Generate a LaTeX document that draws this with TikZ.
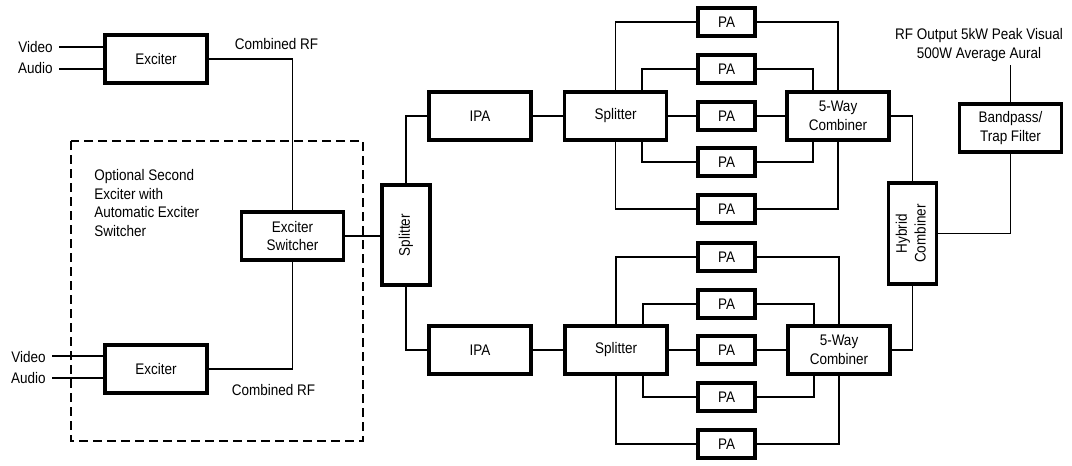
\documentclass[tikz,border=0pt]{standalone}
\usepackage{fontspec}
\setmainfont{Liberation Sans}[FakeStretch=0.88]
\newcommand{\dfont}{\fontsize{11.5}{14}\selectfont}
\begin{document}
\begin{tikzpicture}[x=0.75pt,y=-0.75pt,
  box/.style={draw,line width=2.8pt,inner sep=0pt,align=center,font=\dfont,minimum width=76.5pt,minimum height=36pt},
  vbox/.style={box,minimum width=36pt,minimum height=75.5pt},
  pa/.style={box,minimum width=43pt,minimum height=21pt},
  wire/.style={line width=1.25pt},
  lbl/.style={inner sep=0pt,font=\dfont},
  optbox/.style={line width=1.3pt,dash pattern=on 6.75pt off 3.75pt}]
\useasboundingbox (0,0) rectangle (1072,465);
% dashed optional region
\draw[optbox] (71,141) rectangle (363,441);
% blocks
\node[box] (exc1) at (156,59) {Exciter};
\node[box] (exc2) at (156,369) {Exciter};
\node[box] (sw) at (292.5,236) {Exciter\\Switcher};
\node[vbox] (sp0) at (406,235) {\rotatebox{90}{Splitter}};
\node[box] (ipa1) at (480,116) {IPA};
\node[box] (ipa2) at (480,350) {IPA};
\node[box] (spl1) at (615.5,116) {Splitter};
\node[box] (spl2) at (616,350) {Splitter};
\node[box] (cmb1) at (838,116) {5-Way\\Combiner};
\node[box] (cmb2) at (839,350) {5-Way\\Combiner};
\node[vbox] (hyb) at (912.5,233.5) {\rotatebox{90}{\begin{tabular}{@{}c@{}}Hybrid\\Combiner\end{tabular}}};
\node[box] (bp) at (1010.5,128) {Bandpass/\\Trap Filter};
\foreach \i/\y in {1/22,2/69,3/116,4/162,5/209} \node[pa] (pa1\i) at (726.5,\y) {PA};
\foreach \i/\y in {1/257,2/304,3/350,4/397,5/444} \node[pa] (pa2\i) at (726.5,\y) {PA};
% labels
\node[lbl,anchor=east] (vl1) at (53,47) {Video};
\node[lbl,anchor=east] (al1) at (53,68) {Audio};
\node[lbl,anchor=east] (vl2) at (46,357) {Video};
\node[lbl,anchor=east] (al2) at (46,378) {Audio};
\node[lbl,anchor=base] (crf1) at (276.5,49) {Combined RF};
\node[lbl,anchor=base] (crf2) at (273.5,395) {Combined RF};
\node[lbl,anchor=north west,align=left] (opttxt) at (94,169) {Optional Second\\Exciter with\\Automatic Exciter\\Switcher};
\node[lbl,anchor=north,align=center] (rfout) at (979,28.5) {RF Output 5kW Peak Visual\\500W Average Aural};
% free ends
\coordinate (v1) at (59,47);
\coordinate (a1) at (59,69);
\coordinate (v2) at (52,356);
\coordinate (a2) at (52,378);
\coordinate (rfend) at (1010.5,65);
% connectors
\draw[wire] (v1) -- (v1 -| exc1.west);
\draw[wire] (a1) -- (a1 -| exc1.west);
\draw[wire] (v2) -- (v2 -| exc2.west);
\draw[wire] (a2) -- (a2 -| exc2.west);
\draw[wire] (exc1.east) -| (sw.north);
\draw[wire] (exc2.east) -| (sw.south);
\draw[wire] (sw.east) -- (sw.east -| sp0.west);
\draw[wire] (sp0.north) |- (ipa1.west);
\draw[wire] (sp0.south) |- (ipa2.west);
\draw[wire] (ipa1.east) -- (spl1.west);
\draw[wire] (ipa2.east) -- (spl2.west);
\foreach \s/\c/\p in {spl1/cmb1/pa1, spl2/cmb2/pa2} {
  \draw[wire] (\s.north) |- (\p1.west);
  \draw[wire] ([xshift=20pt]\s.north) |- (\p2.west);
  \draw[wire] (\s.east) -- (\p3.west);
  \draw[wire] ([xshift=20pt]\s.south) |- (\p4.west);
  \draw[wire] (\s.south) |- (\p5.west);
  \draw[wire] (\p1.east) -| (\c.north);
  \draw[wire] (\p2.east) -| ([xshift=-19pt]\c.north);
  \draw[wire] (\p3.east) -- (\c.west);
  \draw[wire] (\p4.east) -| ([xshift=-19pt]\c.south);
  \draw[wire] (\p5.east) -| (\c.south);
}
\draw[wire] (cmb1.east) -| (hyb.north);
\draw[wire] (cmb2.east) -| (hyb.south);
\draw[wire] (hyb.east) -| (bp.south);
\draw[wire] (bp.north) -- (rfend);
\end{tikzpicture}
\end{document}
